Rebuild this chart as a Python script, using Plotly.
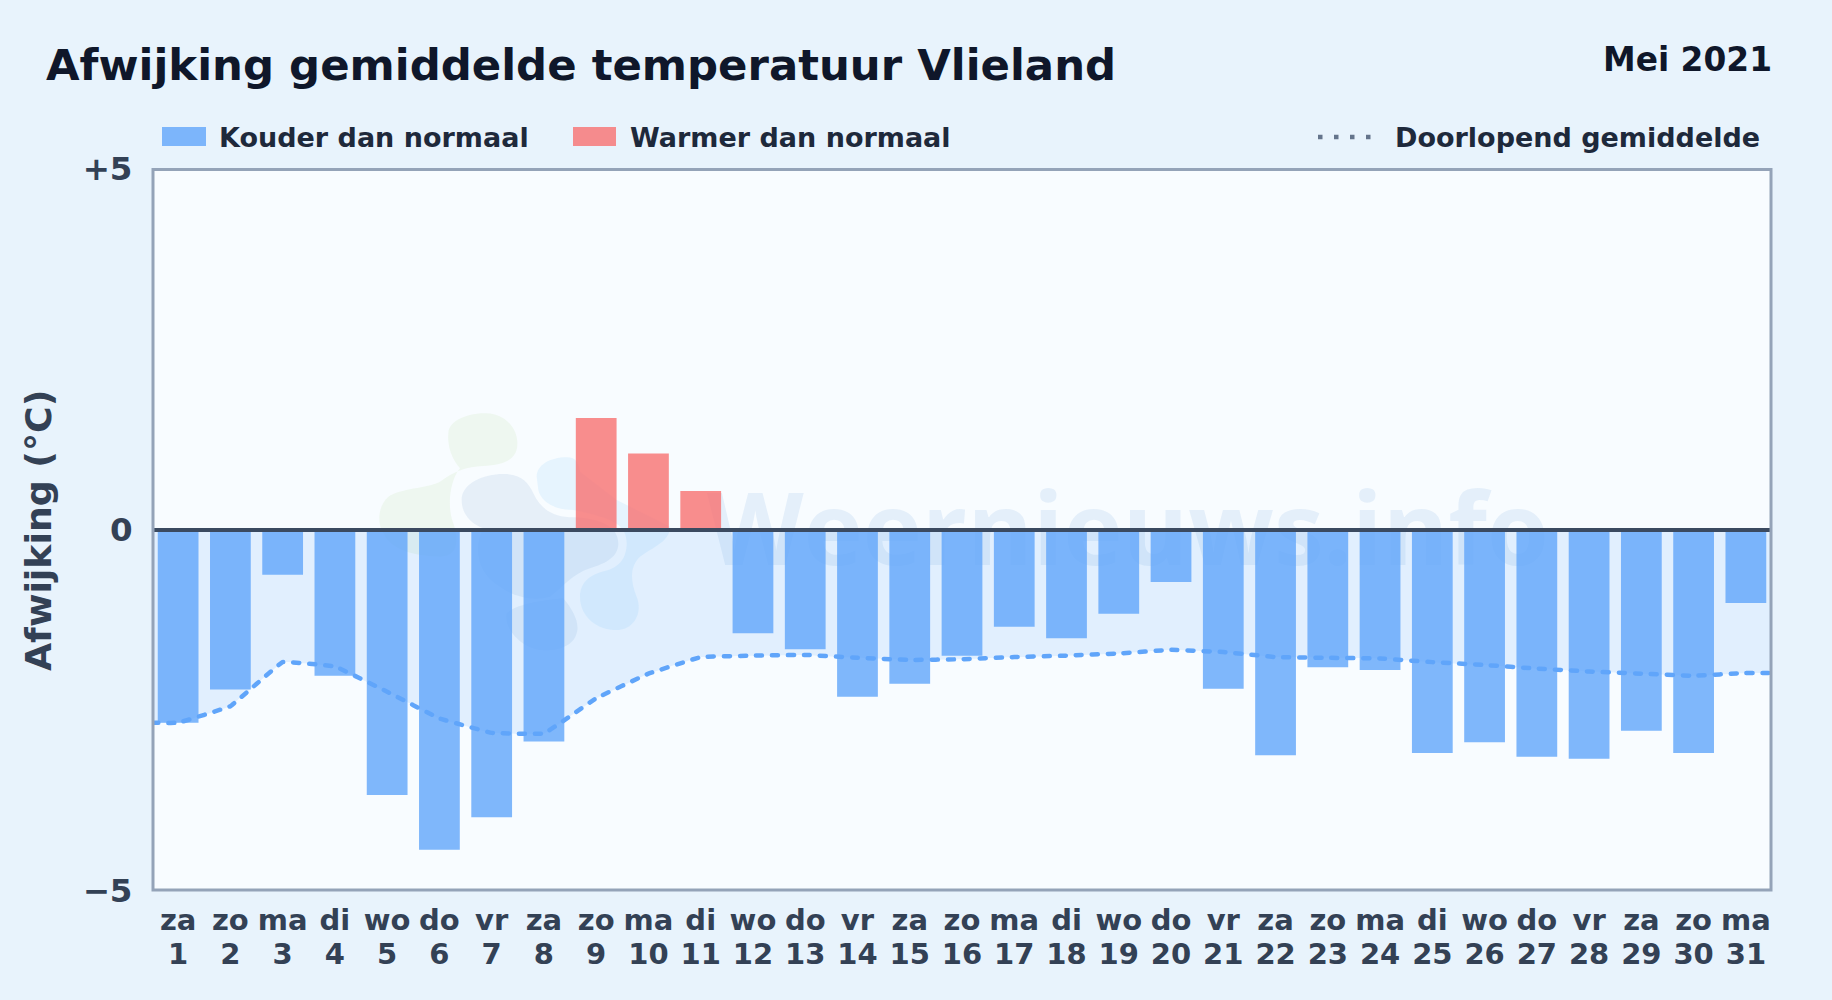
import plotly.graph_objects as go

days = list(range(1, 32))
weekdays = ["za","zo","ma","di","wo","do","vr","za","zo","ma","di","wo","do","vr","za","zo",
            "ma","di","wo","do","vr","za","zo","ma","di","wo","do","vr","za","zo","ma"]
deviation = [-2.67,-2.21,-0.62,-2.02,-3.67,-4.43,-3.98,-2.93,1.55,1.06,0.54,-1.43,-1.65,-2.31,-2.13,-1.74,
             -1.34,-1.50,-1.16,-0.72,-2.20,-3.12,-1.90,-1.94,-3.09,-2.94,-3.14,-3.17,-2.78,-3.09,-1.01]
running_mean = [-2.67,-2.44,-1.83,-1.89,-2.24,-2.61,-2.81,-2.82,-2.33,-1.99,-1.76,-1.74,-1.73,-1.77,-1.80,-1.79,
                -1.76,-1.74,-1.71,-1.66,-1.69,-1.76,-1.77,-1.78,-1.83,-1.87,-1.92,-1.96,-1.99,-2.02,-1.98]
y_ticks = [5, 0, -5]
y_tick_labels = ["+5", "0", "\u22125"]

W, H = 1832, 1000
L, R, T, B = 152, 1772, 169, 891
FONT = "DejaVu Sans"
BG = "#e8f3fc"; PLOT = "#f8fcff"
BLUE = "rgba(96,165,250,0.8)"; RED = "rgba(248,113,113,0.8)"
TXT = "#1e293b"; TICK = "#334155"; TITLE = "#0f172a"

def fx(p): return (p - L) / (R - L)
def fy(p): return (B - p) / (B - T)

def blob(points, color):
    """Watermark blob: path from zoomed pixel coordinates, in paper units."""
    parts = []
    for cmd, *vals in points:
        c = []
        for i in range(0, len(vals), 2):
            c.append(f"{fx(360 + vals[i] / 3):.5f},{fy(400 + vals[i + 1] / 3):.5f}")
        parts.append(cmd + " " + " ".join(c))
    return dict(type="path", xref="paper", yref="paper", layer="below", line_width=0,
                fillcolor=color, path=" ".join(parts) + " Z")

GREEN_W = "rgba(170,215,130,0.12)"; GRAY_W = "rgba(90,140,195,0.11)"; SKY_W = "rgba(90,185,250,0.11)"
shapes = [
    blob([("M",265,100),("C",265,60,330,38,380,40),("C",440,42,475,90,472,135),("C",470,180,430,195,370,198),
          ("C",320,200,280,215,240,245),("C",200,265,120,265,85,290),("C",55,315,50,370,70,400),
          ("C",90,450,170,470,240,470),("C",290,470,300,430,280,370),("C",260,320,270,240,300,205),
          ("C",270,170,262,130,265,100)], GREEN_W),
    blob([("M",305,300),("C",305,250,370,222,430,222),("C",480,222,505,245,520,280),("C",545,335,590,352,640,352),
          ("C",720,355,775,380,775,430),("C",775,470,740,490,690,505),("C",640,520,610,560,570,590),
          ("C",520,605,460,590,420,560),("C",350,520,340,440,370,385),("C",330,370,305,340,305,300)], GRAY_W),
    blob([("M",530,230),("C",530,195,570,172,620,172),("C",650,172,655,190,660,215),("L",770,300),("L",930,380),
          ("C",930,425,880,440,840,470),("C",810,500,810,540,830,590),("C",850,640,820,690,770,690),
          ("C",710,690,660,650,660,590),("C",660,540,700,520,745,510),("C",790,495,800,460,800,430),
          ("C",800,380,770,355,640,330),("C",590,330,545,310,535,270),("Z",)], SKY_W),
    blob([("M",440,640),("C",470,610,560,600,610,595),("C",640,630,660,670,650,700),("C",640,740,590,755,540,750),
          ("C",490,745,430,690,440,640)], GRAY_W),
    # watermark word
    dict(type="rect", xref="paper", yref="paper", layer="below", line_width=0, fillcolor="rgba(0,0,0,0)",
         x0=fx(700), x1=fx(1556), y0=fy(593), y1=fy(473),
         label=dict(text="Weernieuws.info", textposition="middle center",
                    font=dict(family="Open Sans", size=100, color="rgba(90,150,215,0.12)", weight="bold"))),
    # zero line
    dict(type="line", xref="paper", yref="y", layer="above", x0=0, x1=1, y0=0, y1=0,
         line=dict(color="#3b4a60", width=4)),
    # plot frame
    dict(type="rect", xref="paper", yref="paper", layer="above", x0=fx(153), x1=fx(1771), y0=fy(890), y1=fy(169.5),
         line=dict(color="#94a3b8", width=3), fillcolor="rgba(0,0,0,0)"),
    # legend keys
    dict(type="rect", xref="paper", yref="paper", x0=fx(162), x1=fx(206), y0=fy(146), y1=fy(127),
         line_width=0, fillcolor=BLUE),
    dict(type="rect", xref="paper", yref="paper", x0=fx(573), x1=fx(616), y0=fy(146), y1=fy(127),
         line_width=0, fillcolor=RED),
    dict(type="line", xref="paper", yref="paper", x0=fx(1318), x1=fx(1373), y0=fy(137), y1=fy(137),
         line=dict(color="#64748b", width=4.5, dash="4.5px,11.5px")),
]

def note(text, x, y, size, color, xanchor="left", **kw):
    return dict(text=text, xref="paper", yref="paper", x=fx(x), y=fy(y), showarrow=False, xanchor=xanchor,
                yanchor="middle", font=dict(family=FONT, size=size, color=color, weight="bold"), **kw)

annotations = [
    note("Afwijking gemiddelde temperatuur Vlieland", 43.7, 65, 43.4, TITLE),
    note("Mei 2021", 1774.5, 60, 32.85, TITLE, xanchor="right"),
    note("Kouder dan normaal", 216.7, 137, 27, TXT),
    note("Warmer dan normaal", 627.7, 137, 27, TXT),
    note("Doorlopend gemiddelde", 1762.3, 137, 27, TXT, xanchor="right"),
    note("Afwijking (\u00b0C)", 38, 530, 36.3, TICK, xanchor="center", textangle=-90),
]

mean_x = [0.5] + days + [31.5]
mean_y = [running_mean[0]] + running_mean + [running_mean[-1]]

fig = go.Figure()
fig.add_trace(go.Scatter(x=mean_x, y=mean_y, xaxis="x", yaxis="y", mode="lines",
                         line=dict(width=0, shape="spline", smoothing=0.15),
                         fill="tozeroy", fillcolor="rgba(96,165,250,0.15)", showlegend=False, hoverinfo="skip"))
fig.add_trace(go.Bar(x=days, y=deviation, xaxis="x", yaxis="y2", width=0.78, showlegend=False,
                     marker=dict(color=[RED if v > 0 else BLUE for v in deviation], line_width=0)))
fig.add_trace(go.Scatter(x=mean_x, y=mean_y, xaxis="x2", yaxis="y3", mode="lines", showlegend=False,
                         line=dict(color="#60a5fa", width=4.5, dash="6px,10px", shape="spline", smoothing=0.15)))

yrange = [-5, 5]
xrange_ = [0.5, 31.5]
tickfont = dict(family=FONT, size=29, color=TICK, weight="bold")
fig.update_layout(
    width=W, height=H, margin=dict(l=L, r=W - R, t=T, b=H - B, autoexpand=False),
    paper_bgcolor=BG, plot_bgcolor=PLOT, shapes=shapes, annotations=annotations,
    font=dict(family=FONT), showlegend=False,
    xaxis=dict(range=xrange_, tickvals=days, ticktext=weekdays, tickangle=0, tickfont=tickfont,
               showline=False, showgrid=False, zeroline=False,
               ticks="outside", ticklen=3.5, tickcolor="rgba(0,0,0,0)"),
    xaxis2=dict(range=xrange_, overlaying="x", side="bottom", anchor="y", tickvals=days, ticktext=[str(d) for d in days],
                tickangle=0, tickfont=tickfont, showline=False, showgrid=False, zeroline=False,
                ticks="outside", ticklen=37.5, tickcolor="rgba(0,0,0,0)"),
    yaxis=dict(range=yrange, tickvals=y_ticks, ticktext=y_tick_labels,
               tickfont=dict(family=FONT, size=32.5, color=TICK, weight="bold"),
               showline=False, showgrid=False, zeroline=False,
               ticks="outside", ticklen=12, tickcolor="rgba(0,0,0,0)"),
    yaxis2=dict(range=yrange, overlaying="y", visible=False),
    yaxis3=dict(range=yrange, overlaying="y", visible=False),
)
fig.write_html("out.html", config=dict(displayModeBar=False),
               post_script="document.body.style.margin='0';document.body.style.overflow='hidden';"
                           "var s=document.createElement('style');s.textContent='.scatterlayer .js-line{stroke-linecap:round}';document.head.appendChild(s);")
